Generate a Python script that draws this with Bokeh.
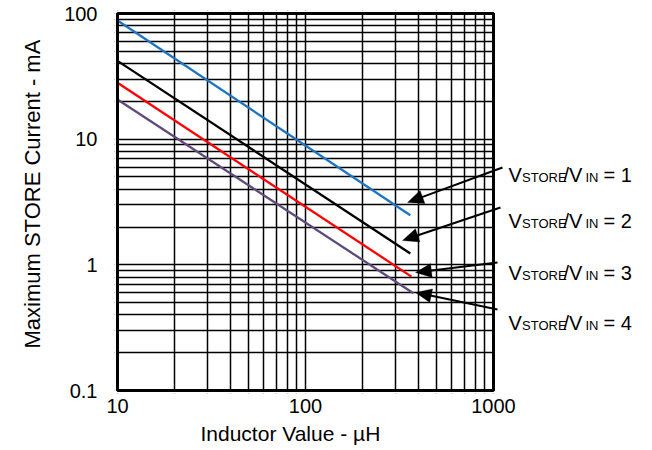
import math
from bokeh.plotting import figure
from bokeh.models import (FixedTicker, CustomJSTickFormatter, Label, Arrow,
                          PolyAnnotation, BoxAnnotation, Title)
from bokeh.embed import file_html
from bokeh.resources import INLINE

# ---- data ----
x_ticks = [10, 100, 1000]
x_minor = [20, 30, 40, 50, 60, 70, 80, 90, 200, 300, 400, 500, 600, 700, 800, 900]
y_ticks = [0.1, 1, 10, 100]
y_minor = [0.2, 0.3, 0.4, 0.5, 0.6, 0.7, 0.8, 0.9,
           2, 3, 4, 5, 6, 7, 8, 9,
           20, 30, 40, 50, 60, 70, 80, 90]
x_lo, x_hi = 10, 1000
y_lo, y_hi = 0.1, 100

ratio1_L = [10, 361]
ratio1_I = [88, 2.48]
ratio2_L = [10, 361]
ratio2_I = [42, 1.23]
ratio3_L = [10, 366]
ratio3_I = [28.1, 0.806]
ratio4_L = [10, 375]
ratio4_I = [20.7, 0.594]

labels = ["1", "2", "3", "4"]
x_title = "Inductor Value - µH"
y_title = "Maximum STORE Current - mA"

FONT = "Liberation Sans"
W, H = 652, 450
# plotting area (page px) of the 10..1000 x 0.1..100 box
AL, AR, AT, AB = 117, 493, 13, 390
PAD = 3
dec_x = (AR - AL) / math.log10(x_hi / x_lo)
dec_y = (AB - AT) / math.log10(y_hi / y_lo)
FL, FT, FB = AL - PAD, AT - PAD, AB + PAD   # frame edges; frame reaches right edge

x_start = 10 ** (math.log10(x_lo) - PAD / dec_x)
x_end = 10 ** (math.log10(x_hi) + (W - AR) / dec_x)
y_start = 10 ** (math.log10(y_lo) - PAD / dec_y)
y_end = 10 ** (math.log10(y_hi) + PAD / dec_y)

p = figure(width=W, height=H, x_axis_type="log", y_axis_type="log",
           x_range=(x_start, x_end), y_range=(y_start, y_end),
           output_backend="svg", toolbar_location=None,
           min_border_left=FL, min_border_top=FT, min_border_right=0,
           min_border_bottom=H - FB, background_fill_color="white",
           border_fill_color="white")
p.outline_line_color = None

xt = FixedTicker(ticks=x_ticks, minor_ticks=x_minor)
yt = FixedTicker(ticks=y_ticks, minor_ticks=y_minor)
p.xaxis.ticker = xt
p.yaxis.ticker = yt
p.xgrid.ticker = xt
p.ygrid.ticker = yt
p.xaxis.formatter = CustomJSTickFormatter(code="return String(tick);")
p.yaxis.formatter = CustomJSTickFormatter(code="return String(tick);")

for g in (p.xgrid, p.ygrid):
    g.grid_line_color = "black"
    g.grid_line_width = 1.5
    g.grid_line_alpha = 1.0
    g.minor_grid_line_color = "black"
    g.minor_grid_line_width = 1.5

for ax in (p.xaxis, p.yaxis):
    ax.axis_line_color = None
    ax.major_tick_line_color = None
    ax.minor_tick_line_color = None
    ax.major_tick_out = 0
    ax.minor_tick_out = 0
    ax.major_label_text_font = FONT
    ax.major_label_text_font_size = "20px"
    ax.major_label_text_color = "black"

p.xaxis.major_label_standoff = 8 - PAD
p.yaxis.major_label_standoff = 20 - PAD

# axis titles as side titles so they can be placed like the reference
p.add_layout(Title(text=x_title, align="left", offset=200 - FL, standoff=8,
                   text_font=FONT, text_font_size="21px", text_font_style="normal",
                   text_color="black"), "below")
p.add_layout(Title(text=y_title, align="left", offset=FB - 348, standoff=34,
                   text_font=FONT, text_font_size="22px", text_font_style="normal",
                   text_color="black"), "left")

p.line(ratio1_L, ratio1_I, line_color="#1C75C4", line_width=2.3)
p.line(ratio2_L, ratio2_I, line_color="black", line_width=2.3)
p.line(ratio3_L, ratio3_I, line_color="#FF0000", line_width=2.3)
p.line(ratio4_L, ratio4_I, line_color="#604A7B", line_width=2.3)

# white covers outside the 10..1000 x 0.1..100 box, then the box border
for kw in (dict(left=x_hi), dict(right=x_lo), dict(bottom=y_hi), dict(top=y_lo)):
    p.add_layout(BoxAnnotation(fill_color="white", fill_alpha=1.0,
                               line_color=None, **kw))
p.add_layout(BoxAnnotation(left=x_lo, right=x_hi, bottom=y_lo, top=y_hi,
                           fill_alpha=0, line_color="black", line_width=3,
                           line_alpha=1.0))


def sx(px):
    return px - FL


def sy(py):
    return FB - py


# arrows (annotation positions, page px from top-left)
arrows = [
    ((502, 167), (407, 202)),
    ((500, 207), (402, 240)),
    ((497, 262), (415, 272)),
    ((497, 309), (415, 292)),
]
HEAD_LEN, HEAD_HALF = 16, 7
for (xs, ys), (xe, ye) in arrows:
    dx, dy = xe - xs, ye - ys
    d = math.hypot(dx, dy)
    ux, uy = dx / d, dy / d
    bx, by = xe - HEAD_LEN * ux, ye - HEAD_LEN * uy
    nx, ny = -uy, ux
    p.add_layout(Arrow(end=None, x_start=sx(xs), y_start=sy(ys),
                       x_end=sx(bx + 2 * ux), y_end=sy(by + 2 * uy),
                       start_units="screen", end_units="screen",
                       line_color="black", line_width=2, level="overlay"))
    tri_x = [xe, bx + HEAD_HALF * nx, bx - HEAD_HALF * nx]
    tri_y = [ye, by + HEAD_HALF * ny, by - HEAD_HALF * ny]
    p.add_layout(PolyAnnotation(xs=[sx(v) for v in tri_x], ys=[sy(v) for v in tri_y],
                                xs_units="screen", ys_units="screen",
                                fill_color="black", fill_alpha=1.0,
                                line_color="black", line_width=1, level="overlay"))

# annotation texts with subscripts (page px)
text_x = 508
baselines = [174, 220, 272, 322]
for lab, yb in zip(labels, baselines):
    parts = [
        ("V", 0, 0, "20px"),
        ("STORE", 13.5, 3, "13px"),
        ("/V", 55, 0, "20px"),
        ("IN", 77, 3, "13px"),
        ("= " + lab, 95, 0, "20px"),
    ]
    for txt, dx, dy, fs in parts:
        p.add_layout(Label(x=sx(text_x + dx), y=sy(yb + dy), text=txt,
                           x_units="screen", y_units="screen",
                           text_font=FONT, text_font_size=fs, text_color="black",
                           text_baseline="alphabetic", text_align="left",
                           level="overlay"))

open("out.html", "w").write(file_html(p, INLINE))
